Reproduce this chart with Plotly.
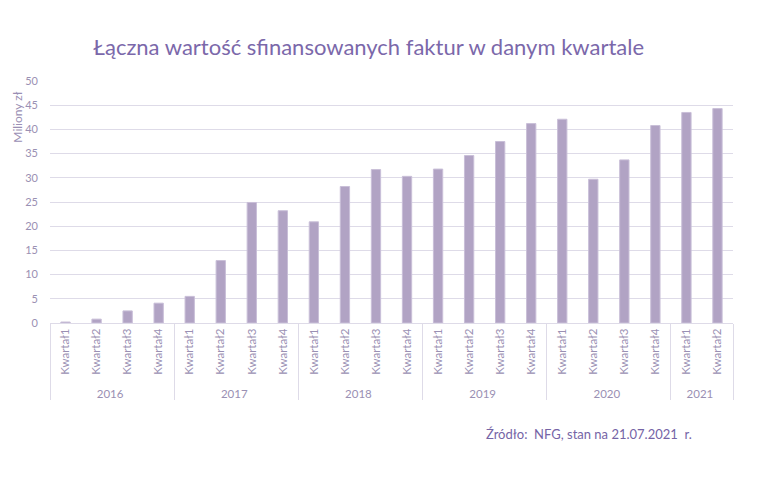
import plotly.graph_objects as go

# dane (mln zł)
lata = ["2016"] * 4 + ["2017"] * 4 + ["2018"] * 4 + ["2019"] * 4 + ["2020"] * 4 + ["2021"] * 2
kwartaly = ["Kwartał1", "Kwartał2", "Kwartał3", "Kwartał4"] * 5 + ["Kwartał1", "Kwartał2"]
wartosci = [0.2, 0.8, 2.5, 4.1, 5.5, 12.9, 24.9, 23.2,
            20.9, 28.2, 31.7, 30.3, 31.8, 34.6, 37.5, 41.2,
            42.1, 29.7, 33.7, 40.8, 43.5, 44.3]

fnt = "Lato"
txt_col = "#9a90b3"

fig = go.Figure(go.Bar(
    x=[lata, kwartaly],
    y=wartosci,
    marker=dict(color="#b1a3c4", line=dict(color="#c9bfd8", width=1)),
    width=0.3,
))

# strona ma 8px marginesu body, więc marginesy są przesunięte
fig.update_layout(
    width=761, height=481,
    paper_bgcolor="white", plot_bgcolor="white",
    margin=dict(l=42, r=36, t=73, b=166),
    showlegend=False,
    font=dict(family=fnt, color=txt_col, size=11),
    title=dict(text="Łączna wartość sfinansowanych faktur w danym kwartale",
               x=0.474, xanchor="center", y=0.919, yanchor="middle",
               font=dict(family=fnt, size=22, color="#7b68aa")),
)

fig.update_yaxes(
    range=[0, 50], dtick=5, showgrid=True, gridcolor="#dedbe8", gridwidth=1,
    zeroline=False, ticks="", tickfont=dict(size=11, color=txt_col),
    ticklabelstandoff=11,
)

fig.update_xaxes(
    type="multicategory", tickangle=-90, showline=True, linecolor="#dedbe8",
    linewidth=1, showdividers=True, dividercolor="#dedbe8", dividerwidth=1,
    tickfont=dict(size=11.5, color=txt_col), ticks="",
)

fig.add_annotation(text="Miliony zł", textangle=-90, xref="paper", yref="paper",
                   x=-0.048, y=0.963, xanchor="center", yanchor="top", showarrow=False,
                   font=dict(family=fnt, size=12, color="#9a8fb4"))

fig.add_annotation(text="Źródło:  NFG, stan na 21.07.2021  r.", xref="paper", yref="paper",
                   x=0.635, y=-0.457, xanchor="left", yanchor="middle", showarrow=False,
                   font=dict(family=fnt, size=13, color="#7564a6"))

fig.write_html("out.html")
